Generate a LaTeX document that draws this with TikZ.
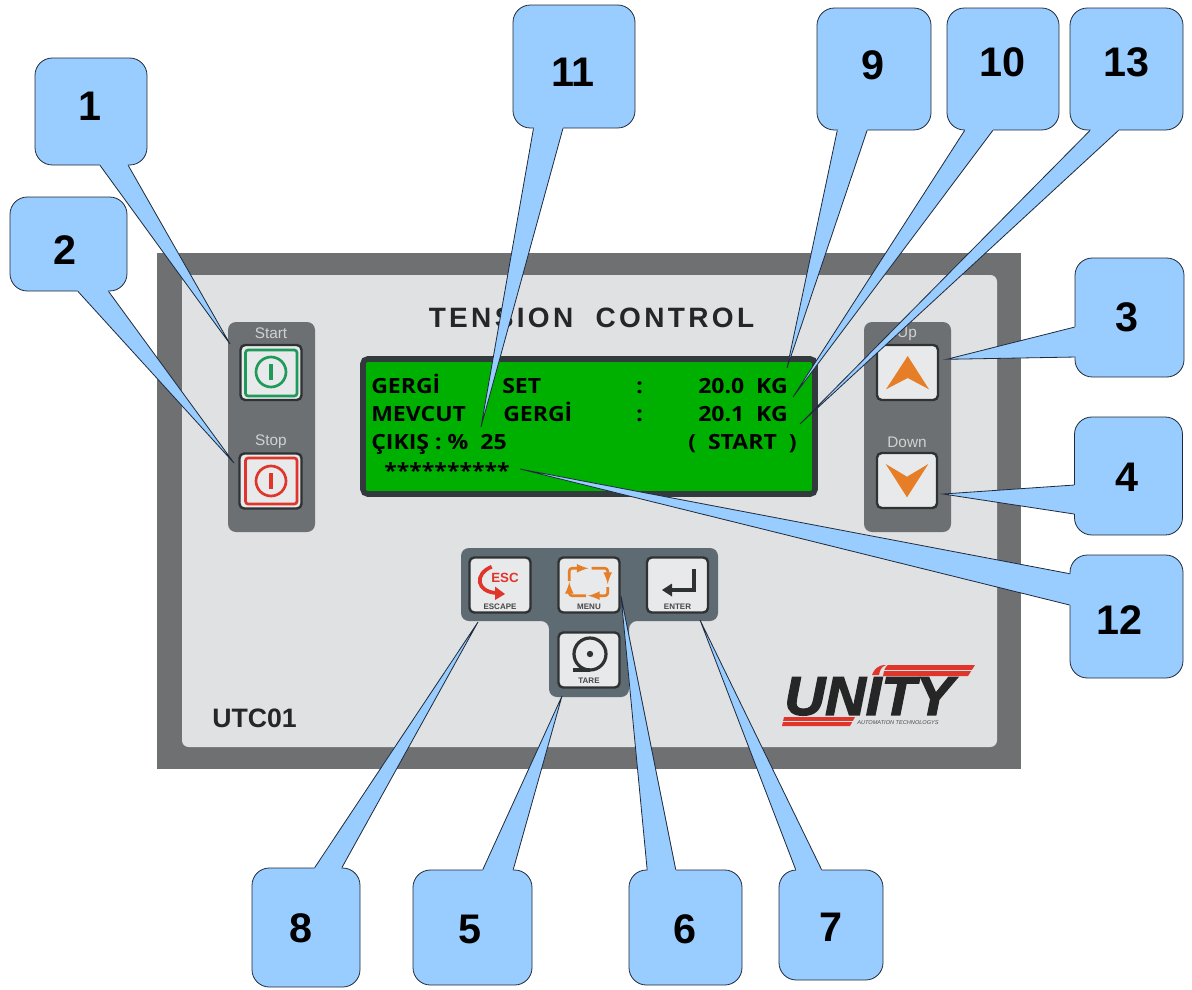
\documentclass[tikz,border=0pt]{standalone}
\usepackage{fontspec}
\usetikzlibrary{calc}
\newfontfamily\armfont{Liberation Sans}
\newfontfamily\titlefont[LetterSpace=12]{Liberation Sans}
\newfontfamily\lcdfont[FakeStretch=1.1]{Open Sans}
\newfontfamily\logofont[FakeBold=2.5]{Liberation Sans}
\definecolor{panelgray}{HTML}{6E7072}
\definecolor{facegray}{HTML}{DFE1E3}
\definecolor{stripgray}{HTML}{6D7073}
\definecolor{keygray}{HTML}{5F6B73}
\definecolor{keyface}{HTML}{E8E9EA}
\definecolor{keyline}{HTML}{2F3233}
\definecolor{callblue}{HTML}{99CCFF}
\definecolor{callline}{HTML}{1F2A3A}
\definecolor{lcdgreen}{HTML}{00B000}
\definecolor{lcdframe}{HTML}{333A3D}
\definecolor{startgreen}{HTML}{1E9A5A}
\definecolor{stopred}{HTML}{E0352B}
\definecolor{keyorange}{HTML}{E67E28}
\tikzset{
	numbox/.style 2 args={draw=callline, fill=callblue, line width=.6pt, rounded corners=13pt, minimum width=#1*.75pt, minimum height=#2*.75pt, inner sep=0pt},
	numtext/.style={font=\armfont\bfseries\fontsize{31}{31}\selectfont, text=black, inner sep=0pt},
	keybox/.style 2 args={draw=keyline, fill=keyface, line width=1.8pt, rounded corners=3.5pt, minimum width=#1*.75pt, minimum height=#2*.75pt, inner sep=0pt},
	striptext/.style={font=\armfont\fontsize{11.5}{11.5}\selectfont, text=black!18, inner sep=0pt},
	keytext/.style={font=\armfont\bfseries\fontsize{6}{6}\selectfont, text=black!72, inner sep=0pt},
	lcdtext/.style={font=\lcdfont\bfseries\fontsize{15.7}{15.7}\selectfont, text=black, anchor=base west, inner sep=0pt},
}
\newcommand{\pointer}[6]{
	\coordinate (a) at ($(#1.#2)!#4!(#1.#3)$);
	\coordinate (b) at ($(#1.#2)!#5!(#1.#3)$);
	\fill [callblue] (#6) -- (a) -- ($(a)!2pt!(#1.center)$) -- ($(b)!2pt!(#1.center)$) -- (b) -- cycle;
	\draw [callline, line width=.6pt] (a) -- (#6) -- (b);
}

\begin{document}
\begin{tikzpicture}[x=.75pt, y=-.75pt]
	\useasboundingbox (0,0) rectangle (1192,989);
	
	% housing
	\fill [panelgray] (157,253) rectangle (1021,769);
	\fill [facegray, rounded corners=5pt] (182,275) rectangle (997,747);
	
	\node [font=\titlefont\bfseries\fontsize{21}{21}\selectfont, text=black!85, inner sep=0pt] (title) at (591.5,318) {TENSION\ \ CONTROL};
	\node [font=\armfont\bfseries\fontsize{20}{20}\selectfont, text=black!85, inner sep=0pt] (model) at (254.5,718) {UTC01};
	
	% start and stop
	\fill [stripgray, rounded corners=6pt] (228,322) rectangle (315,532);
	\node [striptext] (starttext) at (271,333) {Start};
	\node [striptext] (stoptext) at (271,442) {Stop};
	\node [keybox={61}{55}] (startkey) at (271,372.5) {};
	\draw [startgreen, line width=2pt, rounded corners=2pt] (245.5,350) rectangle (297,396);
	\draw [startgreen, line width=2pt] (271,372) circle (15);
	\draw [startgreen, line width=3pt] (271,364) -- (271,380);
	\node [keybox={62}{55}] (stopkey) at (270.5,481) {};
	\draw [stopred, line width=2pt, rounded corners=2pt] (245.5,458) rectangle (297,504);
	\draw [stopred, line width=2pt] (271,481) circle (15);
	\draw [stopred, line width=3pt] (271,473) -- (271,489);
	
	% up and down
	\fill [stripgray, rounded corners=6pt] (864,322) rectangle (951,532);
	\node [striptext] (uptext) at (907,334) {Up};
	\node [striptext] (downtext) at (907,442) {Down};
	\node [keybox={61}{55}] (upkey) at (907.5,372.5) {};
	\fill [keyorange] (907.7,356) -- (929,389.3) -- (907.7,378) -- (886,389.3) -- cycle;
	\node [keybox={60}{55}] (downkey) at (907,480.5) {};
	\fill [keyorange] (885.7,464) -- (907,476.7) -- (928.3,464) -- (907,497.3) -- cycle;
	
	% display
	\draw [fill=lcdgreen, draw=lcdframe, line width=4.2pt, rounded corners=3.5pt] (363,359) rectangle (815,494);
	\node [lcdtext] (row1a) at (371,393.5) {GERGİ};
	\node [lcdtext] (row1b) at (502,393.5) {SET};
	\node [lcdtext] (row1c) at (636,393.5) {:};
	\node [lcdtext] (row1d) at (698,393.5) {20.0\ \ KG};
	\node [lcdtext] (row2a) at (371,421.5) {MEVCUT};
	\node [lcdtext] (row2b) at (503,421.5) {GERGİ};
	\node [lcdtext] (row2c) at (636,421.5) {:};
	\node [lcdtext] (row2d) at (698,421.5) {20.1\ \ KG};
	\node [lcdtext] (row3a) at (371,449.5) {ÇIKIŞ : \%\ \ 25};
	\node [lcdtext] (row3b) at (688,449.5) {(\ \ START\ \ )};
	\node [lcdtext] (row4) at (384,478) {**********};
	
	% function keys
	\fill [keygray, rounded corners=6pt] (461,548) -- (718,548) -- (718,621) -- (629,621) -- (629,697) -- (549,697) -- (549,621) -- (461,621) -- cycle;
	\node [keybox={61}{55}] (esckey) at (500,585) {};
	\node [keybox={61}{55}] (menukey) at (589,585) {};
	\node [keybox={61}{55}] (enterkey) at (677.5,585) {};
	\node [keybox={61}{55}] (tarekey) at (589,660) {};
	\node [keytext] (esctext) at (500,606.7) {ESCAPE};
	\node [keytext] (menutext) at (589,606.7) {MENU};
	\node [keytext] (entertext) at (677.5,606.7) {ENTER};
	\node [keytext] (taretext) at (589,681) {TARE};
	
	\draw [stopred, line width=2.8pt] (491.7,566.7) .. controls (474,574) and (476,592) .. (497,593);
	\fill [stopred] (505,594) -- (495,586.5) -- (495,600) -- cycle;
	\node [font=\armfont\bfseries\fontsize{10}{10}\selectfont, text=stopred, inner sep=0pt] (esclabel) at (505,578) {ESC};
	
	\begin{scope}[keyorange, line width=2pt, line join=round, rounded corners=2pt, -latex]
	\draw (569.3,581) -- (569.3,568.3) -- (588.5,568.3);
	\draw (591.7,568.3) -- (607.7,568.3) -- (607.7,584);
	\draw (607.7,587) -- (607.7,595.7) -- (588,595.7);
	\draw (586,595.7) -- (569.3,595.7) -- (569.3,582);
	\end{scope}
	
	\draw [keyline, line width=2.4pt] (694,569.3) -- (694,590) -- (670,590);
	\fill [keyline] (662,590) -- (672,583.5) -- (672,596.5) -- cycle;
	
	\draw [keyline, line width=2.4pt] (590,670) -- (573,670);
	\draw [keyline, line width=2.4pt] (590,670) arc (90:450:16);
	\fill [keyline] (590,654) circle (3.2);
	
	% logo
	\node [font=\logofont\bfseries\itshape\fontsize{41}{41}\selectfont, text=black!85, inner sep=0pt, text depth=0pt, xscale=1.03] (logo) at (869,696) {UNITY};
	\fill [stopred] (888,665) -- (975,665) -- (968,676) -- (883,676) .. controls (884,670) and (885,667) .. (888,665) -- cycle;
	\fill [stopred] (886,665) .. controls (878,665) and (874,669) .. (872,675) -- (879,675) .. controls (880,670) and (881,667) .. (886,665) -- cycle;
	\fill [stopred] (784,717) -- (855,717) -- (850,726) -- (782,726) -- cycle;
	\draw [facegray, line width=.7pt] (884,670) -- (974,670);
	\draw [facegray, line width=.7pt] (782,721.5) -- (854,721.5);
	\node [font=\armfont\itshape\fontsize{4.2}{4.2}\selectfont, text=black!70, inner sep=0pt] (logotext) at (898,723) {AUTOMATION TECHNOLOGYS};
	
	% callouts
	\node [numbox={112}{107}] (box1) at (91,111.5) {};
	\node [numtext] (num1) at (90,106) {1};
	\coordinate (tip1) at (230,344);
	\pointer{box1}{south west}{south east}{.58}{.83}{tip1}
	
	\node [numbox={117}{94}] (box2) at (68.5,244) {};
	\node [numtext] (num2) at (65,250) {2};
	\coordinate (tip2) at (234,463);
	\pointer{box2}{south west}{south east}{.58}{.84}{tip2}
	
	\node [numbox={122}{123}] (box11) at (574,66.5) {};
	\node [numtext] (num11) at (573,72) {11};
	\coordinate (tip11) at (481,427);
	\pointer{box11}{south west}{south east}{.17}{.41}{tip11}
	
	\node [numbox={114}{122}] (box9) at (874,69) {};
	\node [numtext] (num9) at (873,65) {9};
	\coordinate (tip9) at (787,368);
	\pointer{box9}{south west}{south east}{.18}{.44}{tip9}
	
	\node [numbox={112}{122}] (box10) at (1003,69) {};
	\node [numtext] (num10) at (1002,62) {10};
	\coordinate (tip10) at (793,397);
	\pointer{box10}{south west}{south east}{.16}{.41}{tip10}
	
	\node [numbox={113}{122}] (box13) at (1126.5,69) {};
	\node [numtext] (num13) at (1126,62) {13};
	\coordinate (tip13) at (800,424);
	\pointer{box13}{south west}{south east}{.18}{.43}{tip13}
	
	\node [numbox={109}{119}] (box3) at (1129.5,317.5) {};
	\node [numtext] (num3) at (1127,317) {3};
	\coordinate (tip3) at (946.7,359.3);
	\pointer{box3}{north west}{south west}{.58}{.83}{tip3}
	
	\node [numbox={108}{118}] (box4) at (1128.5,476) {};
	\node [numtext] (num4) at (1127,477) {4};
	\coordinate (tip4) at (943,494);
	\pointer{box4}{north west}{south west}{.576}{.82}{tip4}
	
	\node [numbox={113}{123}] (box12) at (1126.5,616.5) {};
	\node [numtext] (num12) at (1119,620) {12};
	\coordinate (tip12) at (520,469);
	\pointer{box12}{north west}{south west}{.154}{.407}{tip12}
	
	\node [numbox={108}{119}] (box8) at (306,927.5) {};
	\node [numtext] (num8) at (301,928) {8};
	\coordinate (tip8) at (478,622);
	\pointer{box8}{north west}{north east}{.58}{.83}{tip8}
	
	\node [numbox={119}{115}] (box5) at (472.5,927.5) {};
	\node [numtext] (num5) at (470,929) {5};
	\coordinate (tip5) at (562,696);
	\pointer{box5}{north west}{north east}{.586}{.84}{tip5}
	
	\node [numbox={113}{115}] (box6) at (685.5,927.5) {};
	\node [numtext] (num6) at (685,929) {6};
	\coordinate (tip6) at (621,596);
	\pointer{box6}{north west}{north east}{.163}{.414}{tip6}
	
	\node [numbox={104}{110}] (box7) at (831,925) {};
	\node [numtext] (num7) at (831,927) {7};
	\coordinate (tip7) at (700,620);
	\pointer{box7}{north west}{north east}{.163}{.41}{tip7}
	
\end{tikzpicture}
\end{document}
